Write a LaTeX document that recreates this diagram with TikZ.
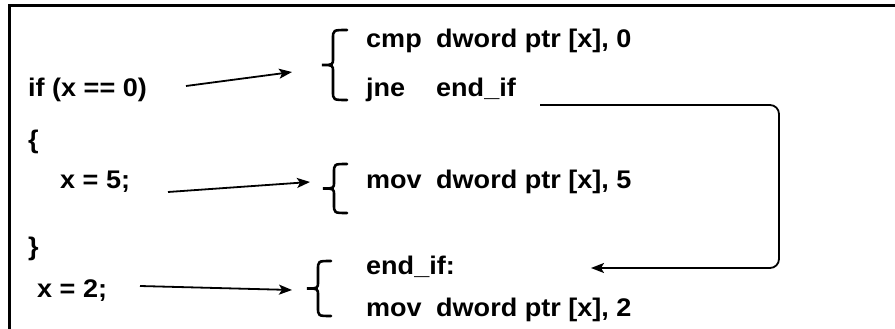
\documentclass[tikz,border=0pt]{standalone}
\usepackage{fontspec}
\setmainfont{Liberation Sans}[FakeStretch=1.06]
\usetikzlibrary{arrows.meta}
\tikzset{
  txt/.style={anchor=base west, inner sep=0pt, font=\fontsize{25.5}{30}\selectfont\bfseries},
  arr/.style={line width=1.8pt, -{Stealth[length=13pt,width=10pt,inset=3pt]}},
  brc/.style={line width=2.6pt, line cap=round},
  frame/.style={line width=3pt}
}
\newcommand\mybrace[4]{% top, bottom, tipx, rightx
  \pgfmathsetmacro\mid{(#1+#2)/2}
  \pgfmathsetmacro\vx{#3+11}
  \draw[brc] (#4,#1) .. controls (\vx,#1) and (\vx,#1) .. (\vx,#1+9)
    -- (\vx,\mid-7) .. controls (\vx,\mid) and (\vx,\mid) .. (#3,\mid)
    .. controls (\vx,\mid) and (\vx,\mid) .. (\vx,\mid+7)
    -- (\vx,#2-9) .. controls (\vx,#2) and (\vx,#2) .. (#4,#2);
}
\begin{document}
\begin{tikzpicture}[x=1pt,y=-1pt]
\useasboundingbox (0,0) rectangle (895,329);
\draw[frame] (9,331) -- (9,6) -- (896,6);

% C source
\node[txt] (if) at (28,97) {if (x == 0)};
\node[txt] (ob) at (28,148) {\{};
\node[txt] (x5) at (60,188) {x = 5;};
\node[txt] (cb) at (28,255) {\}};
\node[txt] (x2) at (37,297) {x = 2;};

% assembly
\node[txt] (cmp) at (366,48) {cmp};
\node[txt] (cmpo) at (436,48) {dword ptr [x], 0};
\node[txt] (jne) at (366,97) {jne};
\node[txt] (jneo) at (436,97) {end\_if};
\node[txt] (mov5) at (366,188) {mov};
\node[txt] (mov5o) at (436,188) {dword ptr [x], 5};
\node[txt] (lbl) at (366,274) {end\_if:};
\node[txt] (mov2) at (366,316) {mov};
\node[txt] (mov2o) at (436,316) {dword ptr [x], 2};

% braces
\mybrace{30}{100}{322}{347}
\mybrace{164}{213}{323}{347}
\mybrace{261}{316}{307}{331}

% arrows
\coordinate (a1s) at (186,86);
\coordinate (a1e) at (292,72);
\coordinate (a2s) at (168,192);
\coordinate (a2e) at (310,182);
\coordinate (a3s) at (140,286);
\coordinate (a3e) at (292,290);
\draw[arr] (a1s) -- (a1e);
\draw[arr] (a2s) -- (a2e);
\draw[arr] (a3s) -- (a3e);

\coordinate (js) at ([xshift=24pt,yshift=-8pt]jneo.base east);
\coordinate (jt) at (591,268);
\draw[arr, rounded corners=9pt] (js) -- (779,88 |- js) -- (779,268) -- (jt);
\end{tikzpicture}
\end{document}
